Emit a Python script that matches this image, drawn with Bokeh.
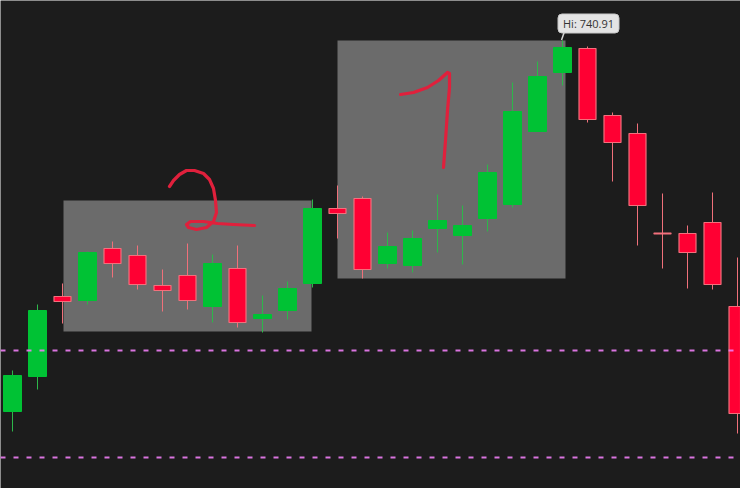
from bokeh.plotting import figure
from bokeh.models import ColumnDataSource, Range1d, Label
from bokeh.embed import file_html
from bokeh.resources import INLINE

# OHLC bars, one per session slot
opens = [703.81, 707.31, 715.31, 714.91, 720.11, 719.41, 716.41, 717.41, 714.31, 718.11,
         713.11, 713.91, 716.61, 724.11, 725.11, 718.61, 718.41, 722.11, 721.41, 723.11,
         724.51, 731.81, 737.71, 740.11, 733.41, 731.61, 721.66, 721.61, 722.71, 714.31]
highs = [707.91, 714.51, 716.61, 719.81, 720.81, 720.41, 718.01, 720.61, 719.51, 720.41,
         715.41, 716.81, 725.01, 726.41, 725.31, 721.71, 721.91, 725.51, 724.41, 728.51,
         736.71, 738.81, 740.91, 740.31, 733.71, 732.61, 725.61, 722.41, 725.71, 719.21]
lows = [701.81, 706.01, 712.61, 714.51, 717.21, 716.01, 713.81, 714.01, 712.71, 712.21,
        711.71, 713.01, 716.21, 721.11, 717.11, 718.11, 717.71, 719.71, 718.51, 721.81,
        724.21, 731.81, 736.41, 732.71, 726.81, 720.41, 718.11, 716.11, 716.01, 701.61]
closes = [707.41, 713.91, 714.81, 719.71, 718.61, 716.51, 715.91, 714.91, 718.61, 712.71,
          713.51, 716.11, 724.11, 723.61, 718.01, 720.31, 721.11, 722.91, 722.41, 727.71,
          733.81, 737.31, 740.21, 733.01, 730.71, 724.41, 721.56, 719.71, 716.51, 703.61]

# horizontal reference levels
levels = [709.91, 699.21]

# highlighted zones: (x0, x1, y_bottom, y_top)
zone_x0 = [2.04, 13.0]
zone_x1 = [11.96, 22.12]
zone_y0 = [711.81, 717.11]
zone_y1 = [724.91, 740.91]

# freehand marker strokes (bar index, price)
stroke2_x = [6.28, 6.44, 6.68, 6.96, 7.28, 7.64, 7.88, 8.04, 8.12, 8.16, 8.04, 7.76, 7.36,
             7.04, 6.96, 7.12, 7.64, 8.2, 8.84, 9.68]
stroke2_y = [726.31, 726.91, 727.51, 727.91, 727.91, 727.61, 727.01, 726.11, 724.91, 723.71,
             722.81, 722.21, 722.01, 722.21, 722.51, 722.81, 722.81, 722.61, 722.51, 722.41]
stroke1_x = [15.52, 16.04, 16.6, 17.04, 17.4, 17.48, 17.48, 17.4, 17.32, 17.24]
stroke1_y = [735.51, 735.71, 736.21, 736.91, 737.71, 737.61, 736.21, 733.91, 730.91, 728.21]

idx = list(range(len(opens)))
up = [c >= o for o, c in zip(opens, closes)]


def subset(mask):
    rows = [i for i in idx if mask[i]]
    return ColumnDataSource(dict(
        x=rows,
        o=[opens[i] for i in rows],
        h=[highs[i] for i in rows],
        l=[lows[i] for i in rows],
        c=[closes[i] for i in rows],
        top=[max(opens[i], closes[i]) for i in rows],
        bot=[min(opens[i], closes[i]) for i in rows],
    ))


inc = subset(up)
dec = subset([not u for u in up])

BG = "#1c1c1c"
p = figure(width=740, height=488, output_backend="svg", toolbar_location=None,
           x_range=Range1d(-0.48, 29.12), y_range=Range1d(696.11, 744.91),
           background_fill_color=BG, border_fill_color=BG, min_border=0)
p.axis.visible = False
p.grid.visible = False
p.outline_line_color = None

# zones
p.quad(left=zone_x0, right=zone_x1, bottom=zone_y0, top=zone_y1,
       fill_color="#6b6b6b", line_color=None)

# wicks
p.segment(x0="x", x1="x", y0="l", y1="h", source=inc, line_color="#2db74a", line_width=1)
p.segment(x0="x", x1="x", y0="l", y1="h", source=dec, line_color="#f0707a", line_width=1)

# bodies
p.vbar(x="x", width=0.72, top="top", bottom="bot", source=inc,
       fill_color="#00c234", line_color="#00c234", line_width=1)
p.vbar(x="x", width=0.68, top="top", bottom="bot", source=dec,
       fill_color="#ff0033", line_color="#f2707c", line_width=1.2)

# reference levels
for lv in levels:
    p.line(x=[-0.48, 28.85], y=[lv, lv], line_color="#f07ef5", line_alpha=0.9,
           line_width=2, line_dash="5 8")

# marker strokes
p.line(x=stroke2_x, y=stroke2_y, line_color="#e0203c", line_width=3.2,
       line_cap="round", line_join="round")
p.line(x=stroke1_x, y=stroke1_y, line_color="#e0203c", line_width=3.2,
       line_cap="round", line_join="round")

# high marker
hi_i = max(idx, key=lambda i: highs[i])
hi_v = highs[hi_i]
p.segment(x0=[hi_i + 0.08], y0=[hi_v + 0.9], x1=[hi_i - 0.04], y1=[hi_v + 0.05],
          line_color="#d8d8d8", line_width=1.5)
p.add_layout(Label(x=hi_i, y=hi_v, x_offset=26, y_offset=17,
                   text=f"Hi: {hi_v:.2f}", text_align="center", text_baseline="middle",
                   text_font="Open Sans", text_font_size="11px", text_color="#333333",
                   background_fill_color="#e4e4e4", border_line_color="#c8c8c8",
                   border_radius=4, padding=(5, 2)))

open("out.html", "w").write(file_html(p, INLINE))
